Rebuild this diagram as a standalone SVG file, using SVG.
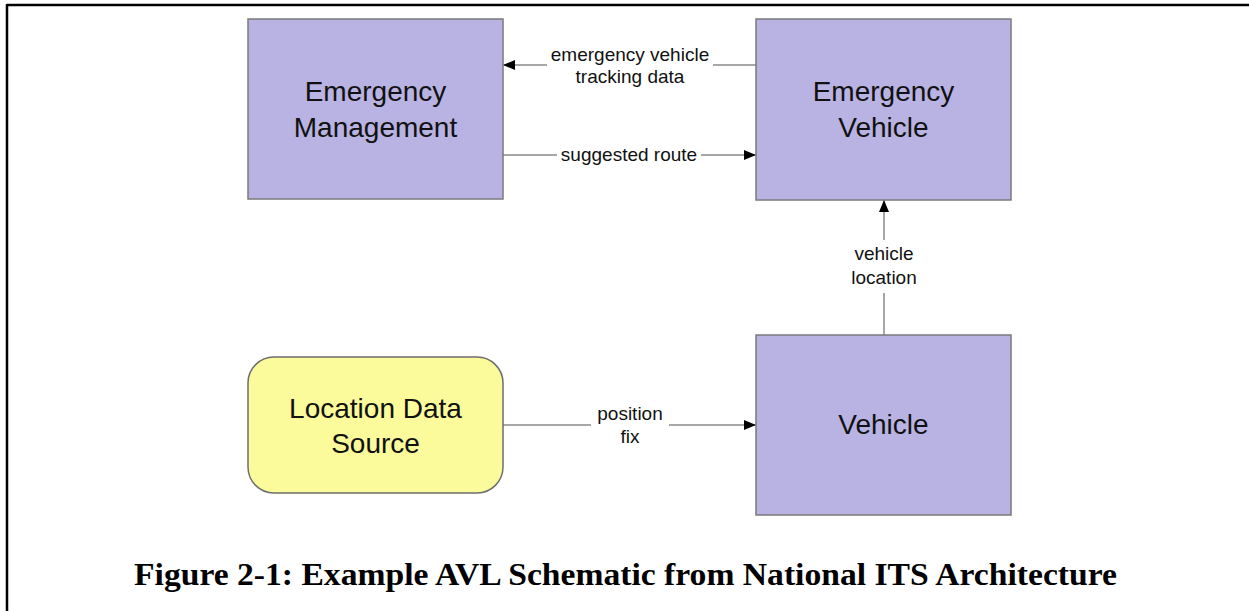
<svg xmlns="http://www.w3.org/2000/svg" width="1249" height="611" viewBox="0 0 1249 611">
<style>
.box{fill:#b9b3e3;stroke:#7a7a7a;stroke-width:1.5}
.src{fill:#fbfb9c;stroke:#6e6e6e;stroke-width:1.5}
.nt{font-family:"Liberation Sans",Arial,sans-serif;font-size:28px;fill:#111;text-anchor:middle}
.lt{font-family:"Liberation Sans",Arial,sans-serif;font-size:19px;fill:#111;text-anchor:middle}
.ln{stroke:#8a8a8a;stroke-width:1.5;fill:none}
.cap{font-family:"Liberation Serif","Times New Roman",serif;font-size:32px;font-weight:bold;fill:#000;text-anchor:middle}
</style>
<defs>
<marker id="ah" viewBox="0 0 12 10" refX="12" refY="5" markerWidth="12" markerHeight="10" markerUnits="userSpaceOnUse" orient="auto">
<path d="M0,0 L12,5 L0,10 Z" fill="#000"/>
</marker>
</defs>
<rect width="1249" height="611" fill="#fff"/>
<g id="frame">
<line x1="7" y1="5" x2="1249" y2="5" stroke="#000" stroke-width="2.5"/>
<line x1="7" y1="4" x2="7" y2="611" stroke="#000" stroke-width="2.5"/>
</g>
<g id="connectors">
<path class="ln" d="M756,65 H713 M547,65 H503" marker-end="url(#ah)"/>
<path class="ln" d="M503,155 H557 M701,155 H756" marker-end="url(#ah)"/>
<path class="ln" d="M884,335 V293 M884,240 V200" marker-end="url(#ah)"/>
<path class="ln" d="M503,425 H591 M669,425 H756" marker-end="url(#ah)"/>
<text class="lt" x="630" y="61">emergency vehicle</text>
<text class="lt" x="630" y="83">tracking data</text>
<text class="lt" x="629" y="161">suggested route</text>
<text class="lt" x="884" y="260">vehicle</text>
<text class="lt" x="884" y="284">location</text>
<text class="lt" x="630" y="420">position</text>
<text class="lt" x="630" y="443">fix</text>
</g>
<g id="emergency-management">
<rect class="box" x="248" y="19" width="255" height="180"/>
<text class="nt" x="375.5" y="101">Emergency</text>
<text class="nt" x="375.5" y="137">Management</text>
</g>
<g id="emergency-vehicle">
<rect class="box" x="756" y="19" width="255" height="181"/>
<text class="nt" x="883.5" y="101">Emergency</text>
<text class="nt" x="883.5" y="137">Vehicle</text>
</g>
<g id="vehicle">
<rect class="box" x="756" y="335" width="255" height="180"/>
<text class="nt" x="883.5" y="434">Vehicle</text>
</g>
<g id="location-data-source">
<rect class="src" x="248" y="357" width="255" height="136" rx="26" ry="26"/>
<text class="nt" x="375.5" y="418">Location Data</text>
<text class="nt" x="375.5" y="453">Source</text>
</g>
<g id="caption">
<text class="cap" x="625.5" y="585" textLength="983" lengthAdjust="spacingAndGlyphs">Figure 2-1: Example AVL Schematic from National ITS Architecture</text>
</g>
</svg>
